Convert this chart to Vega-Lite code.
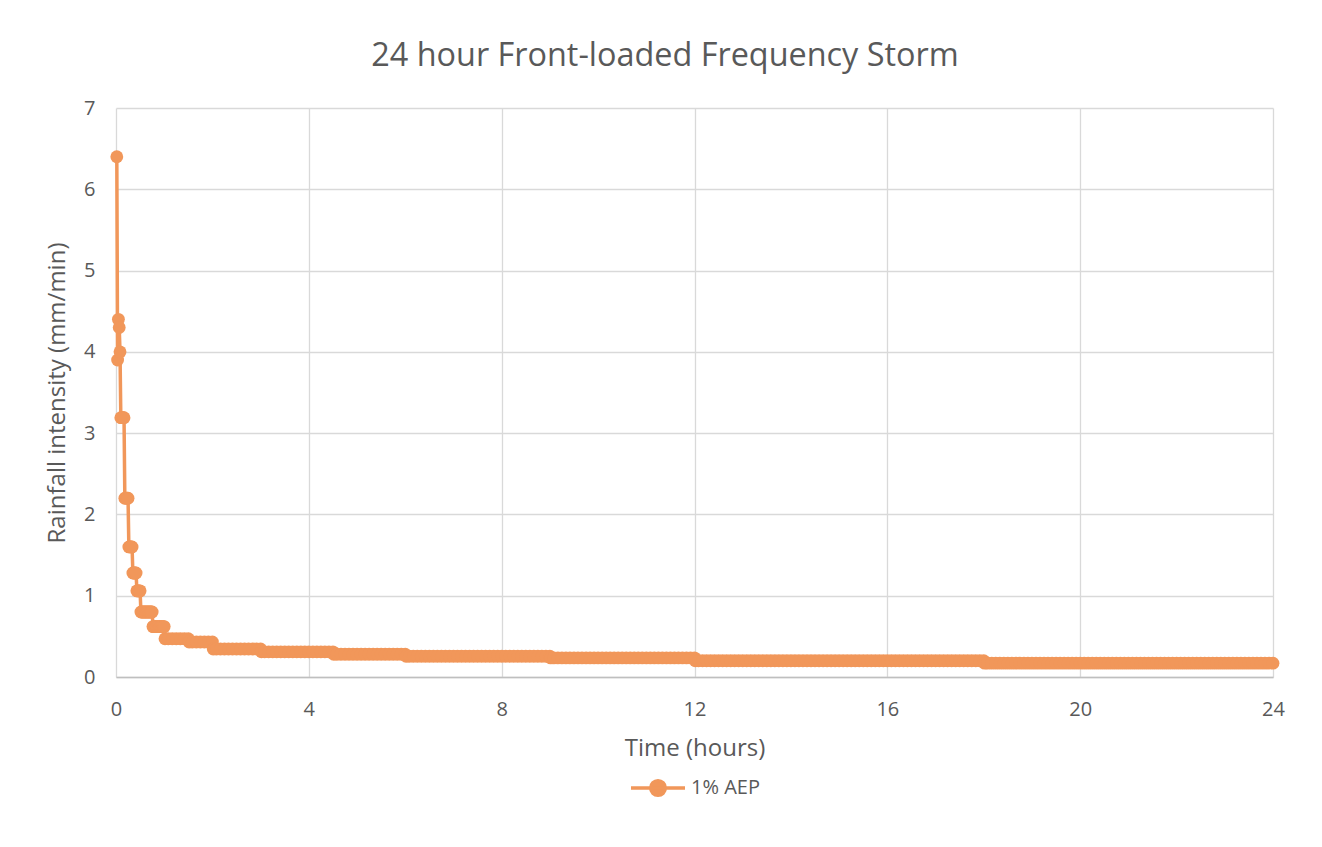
{
  "$schema": "https://vega.github.io/schema/vega-lite/v6.json",
  "autosize": {"type": "none"},
  "width": 1157,
  "height": 569,
  "padding": {"left": 116, "top": 108, "right": 49, "bottom": 170},
  "background": "white",
  "title": {"text": "24 hour Front-loaded Frequency Storm", "fontSize": 32.4, "fontWeight": "normal", "color": "#595959", "anchor": "middle", "frame": "bounds", "offset": 26},
  "data": {"values": [
{"t":1,"v":6.4},{"t":2,"v":3.9},{"t":3,"v":4.4},{"t":4,"v":4.3},{"t":5,"v":4.0},
{"t":6,"v":3.19},{"t":7,"v":3.19},{"t":8,"v":3.19},{"t":9,"v":3.19},{"t":10,"v":3.19},
{"t":11,"v":2.2},{"t":12,"v":2.2},{"t":13,"v":2.2},{"t":14,"v":2.2},{"t":15,"v":2.2},
{"t":16,"v":1.6},{"t":17,"v":1.6},{"t":18,"v":1.6},{"t":19,"v":1.6},{"t":20,"v":1.6},
{"t":21,"v":1.28},{"t":22,"v":1.28},{"t":23,"v":1.28},{"t":24,"v":1.28},{"t":25,"v":1.28},
{"t":26,"v":1.06},{"t":27,"v":1.06},{"t":28,"v":1.06},{"t":29,"v":1.06},{"t":30,"v":1.06},
{"t":31,"v":0.8},{"t":32,"v":0.8},{"t":33,"v":0.8},{"t":34,"v":0.8},{"t":35,"v":0.8},{"t":36,"v":0.8},{"t":37,"v":0.8},{"t":38,"v":0.8},{"t":39,"v":0.8},{"t":40,"v":0.8},{"t":41,"v":0.8},{"t":42,"v":0.8},{"t":43,"v":0.8},{"t":44,"v":0.8},{"t":45,"v":0.8},
{"t":46,"v":0.62},{"t":47,"v":0.62},{"t":48,"v":0.62},{"t":49,"v":0.62},{"t":50,"v":0.62},{"t":51,"v":0.62},{"t":52,"v":0.62},{"t":53,"v":0.62},{"t":54,"v":0.62},{"t":55,"v":0.62},{"t":56,"v":0.62},{"t":57,"v":0.62},{"t":58,"v":0.62},{"t":59,"v":0.62},{"t":60,"v":0.62},
{"t":61,"v":0.47},{"t":65,"v":0.47},{"t":70,"v":0.47},{"t":75,"v":0.47},{"t":80,"v":0.47},{"t":85,"v":0.47},{"t":90,"v":0.47},
{"t":91,"v":0.43},{"t":95,"v":0.43},{"t":100,"v":0.43},{"t":105,"v":0.43},{"t":110,"v":0.43},{"t":115,"v":0.43},{"t":120,"v":0.43},
{"t":121,"v":0.345},{"t":125,"v":0.345},{"t":130,"v":0.345},{"t":135,"v":0.345},{"t":140,"v":0.345},{"t":145,"v":0.345},{"t":150,"v":0.345},{"t":155,"v":0.345},{"t":160,"v":0.345},{"t":165,"v":0.345},{"t":170,"v":0.345},{"t":175,"v":0.345},{"t":180,"v":0.345},
{"t":181,"v":0.31},{"t":185,"v":0.31},{"t":190,"v":0.31},{"t":195,"v":0.31},{"t":200,"v":0.31},{"t":205,"v":0.31},{"t":210,"v":0.31},{"t":215,"v":0.31},{"t":220,"v":0.31},{"t":225,"v":0.31},{"t":230,"v":0.31},{"t":235,"v":0.31},{"t":240,"v":0.31},{"t":245,"v":0.31},{"t":250,"v":0.31},{"t":255,"v":0.31},{"t":260,"v":0.31},{"t":265,"v":0.31},{"t":270,"v":0.31},
{"t":271,"v":0.28},{"t":275,"v":0.28},{"t":280,"v":0.28},{"t":285,"v":0.28},{"t":290,"v":0.28},{"t":295,"v":0.28},{"t":300,"v":0.28},{"t":305,"v":0.28},{"t":310,"v":0.28},{"t":315,"v":0.28},{"t":320,"v":0.28},{"t":325,"v":0.28},{"t":330,"v":0.28},{"t":335,"v":0.28},{"t":340,"v":0.28},{"t":345,"v":0.28},{"t":350,"v":0.28},{"t":355,"v":0.28},{"t":360,"v":0.28},
{"t":361,"v":0.255},{"t":365,"v":0.255},{"t":370,"v":0.255},{"t":375,"v":0.255},{"t":380,"v":0.255},{"t":385,"v":0.255},{"t":390,"v":0.255},{"t":395,"v":0.255},{"t":400,"v":0.255},{"t":405,"v":0.255},{"t":410,"v":0.255},{"t":415,"v":0.255},{"t":420,"v":0.255},{"t":425,"v":0.255},{"t":430,"v":0.255},{"t":435,"v":0.255},{"t":440,"v":0.255},{"t":445,"v":0.255},{"t":450,"v":0.255},{"t":455,"v":0.255},{"t":460,"v":0.255},{"t":465,"v":0.255},{"t":470,"v":0.255},{"t":475,"v":0.255},{"t":480,"v":0.255},{"t":485,"v":0.255},{"t":490,"v":0.255},{"t":495,"v":0.255},{"t":500,"v":0.255},{"t":505,"v":0.255},{"t":510,"v":0.255},{"t":515,"v":0.255},{"t":520,"v":0.255},{"t":525,"v":0.255},{"t":530,"v":0.255},{"t":535,"v":0.255},{"t":540,"v":0.255},
{"t":541,"v":0.235},{"t":545,"v":0.235},{"t":550,"v":0.235},{"t":555,"v":0.235},{"t":560,"v":0.235},{"t":565,"v":0.235},{"t":570,"v":0.235},{"t":575,"v":0.235},{"t":580,"v":0.235},{"t":585,"v":0.235},{"t":590,"v":0.235},{"t":595,"v":0.235},{"t":600,"v":0.235},{"t":605,"v":0.235},{"t":610,"v":0.235},{"t":615,"v":0.235},{"t":620,"v":0.235},{"t":625,"v":0.235},{"t":630,"v":0.235},{"t":635,"v":0.235},{"t":640,"v":0.235},{"t":645,"v":0.235},{"t":650,"v":0.235},{"t":655,"v":0.235},{"t":660,"v":0.235},{"t":665,"v":0.235},{"t":670,"v":0.235},{"t":675,"v":0.235},{"t":680,"v":0.235},{"t":685,"v":0.235},{"t":690,"v":0.235},{"t":695,"v":0.235},{"t":700,"v":0.235},{"t":705,"v":0.235},{"t":710,"v":0.235},{"t":715,"v":0.235},{"t":720,"v":0.235},
{"t":721,"v":0.2},{"t":725,"v":0.2},{"t":730,"v":0.2},{"t":735,"v":0.2},{"t":740,"v":0.2},{"t":745,"v":0.2},{"t":750,"v":0.2},{"t":755,"v":0.2},{"t":760,"v":0.2},{"t":765,"v":0.2},{"t":770,"v":0.2},{"t":775,"v":0.2},{"t":780,"v":0.2},{"t":785,"v":0.2},{"t":790,"v":0.2},{"t":795,"v":0.2},{"t":800,"v":0.2},{"t":805,"v":0.2},{"t":810,"v":0.2},{"t":815,"v":0.2},{"t":820,"v":0.2},{"t":825,"v":0.2},{"t":830,"v":0.2},{"t":835,"v":0.2},{"t":840,"v":0.2},{"t":845,"v":0.2},{"t":850,"v":0.2},{"t":855,"v":0.2},{"t":860,"v":0.2},{"t":865,"v":0.2},{"t":870,"v":0.2},{"t":875,"v":0.2},{"t":880,"v":0.2},{"t":885,"v":0.2},{"t":890,"v":0.2},{"t":895,"v":0.2},{"t":900,"v":0.2},{"t":905,"v":0.2},{"t":910,"v":0.2},{"t":915,"v":0.2},{"t":920,"v":0.2},{"t":925,"v":0.2},{"t":930,"v":0.2},{"t":935,"v":0.2},{"t":940,"v":0.2},{"t":945,"v":0.2},{"t":950,"v":0.2},{"t":955,"v":0.2},{"t":960,"v":0.2},{"t":965,"v":0.2},{"t":970,"v":0.2},{"t":975,"v":0.2},{"t":980,"v":0.2},{"t":985,"v":0.2},{"t":990,"v":0.2},{"t":995,"v":0.2},{"t":1000,"v":0.2},{"t":1005,"v":0.2},{"t":1010,"v":0.2},{"t":1015,"v":0.2},{"t":1020,"v":0.2},{"t":1025,"v":0.2},{"t":1030,"v":0.2},{"t":1035,"v":0.2},{"t":1040,"v":0.2},{"t":1045,"v":0.2},{"t":1050,"v":0.2},{"t":1055,"v":0.2},{"t":1060,"v":0.2},{"t":1065,"v":0.2},{"t":1070,"v":0.2},{"t":1075,"v":0.2},{"t":1080,"v":0.2},
{"t":1081,"v":0.17},{"t":1085,"v":0.17},{"t":1090,"v":0.17},{"t":1095,"v":0.17},{"t":1100,"v":0.17},{"t":1105,"v":0.17},{"t":1110,"v":0.17},{"t":1115,"v":0.17},{"t":1120,"v":0.17},{"t":1125,"v":0.17},{"t":1130,"v":0.17},{"t":1135,"v":0.17},{"t":1140,"v":0.17},{"t":1145,"v":0.17},{"t":1150,"v":0.17},{"t":1155,"v":0.17},{"t":1160,"v":0.17},{"t":1165,"v":0.17},{"t":1170,"v":0.17},{"t":1175,"v":0.17},{"t":1180,"v":0.17},{"t":1185,"v":0.17},{"t":1190,"v":0.17},{"t":1195,"v":0.17},{"t":1200,"v":0.17},{"t":1205,"v":0.17},{"t":1210,"v":0.17},{"t":1215,"v":0.17},{"t":1220,"v":0.17},{"t":1225,"v":0.17},{"t":1230,"v":0.17},{"t":1235,"v":0.17},{"t":1240,"v":0.17},{"t":1245,"v":0.17},{"t":1250,"v":0.17},{"t":1255,"v":0.17},{"t":1260,"v":0.17},{"t":1265,"v":0.17},{"t":1270,"v":0.17},{"t":1275,"v":0.17},{"t":1280,"v":0.17},{"t":1285,"v":0.17},{"t":1290,"v":0.17},{"t":1295,"v":0.17},{"t":1300,"v":0.17},{"t":1305,"v":0.17},{"t":1310,"v":0.17},{"t":1315,"v":0.17},{"t":1320,"v":0.17},{"t":1325,"v":0.17},{"t":1330,"v":0.17},{"t":1335,"v":0.17},{"t":1340,"v":0.17},{"t":1345,"v":0.17},{"t":1350,"v":0.17},{"t":1355,"v":0.17},{"t":1360,"v":0.17},{"t":1365,"v":0.17},{"t":1370,"v":0.17},{"t":1375,"v":0.17},{"t":1380,"v":0.17},{"t":1385,"v":0.17},{"t":1390,"v":0.17},{"t":1395,"v":0.17},{"t":1400,"v":0.17},{"t":1405,"v":0.17},{"t":1410,"v":0.17},{"t":1415,"v":0.17},{"t":1420,"v":0.17},{"t":1425,"v":0.17},{"t":1430,"v":0.17},{"t":1435,"v":0.17},{"t":1440,"v":0.17}
  ]},
  "mark": {"type": "line", "strokeWidth": 3.5, "strokeJoin": "round", "strokeCap": "round", "point": {"filled": true, "size": 165, "opacity": 1}},
  "encoding": {
    "x": {"field": "t", "type": "quantitative", "title": "Time (hours)",
      "scale": {"domain": [0, 1440], "nice": false, "zero": false},
      "axis": {"values": [0, 240, 480, 720, 960, 1200, 1440], "labelExpr": "datum.value / 60", "labelFlush": false, "grid": true, "labelPadding": 22, "titlePadding": 17, "domain": true}},
    "y": {"field": "v", "type": "quantitative", "title": "Rainfall intensity (mm/min)",
      "scale": {"domain": [0, 7], "nice": false},
      "axis": {"values": [0, 1, 2, 3, 4, 5, 6, 7], "grid": true, "domain": false, "labelPadding": 21, "titlePadding": 14}},
    "color": {"datum": "1% AEP", "type": "nominal",
      "scale": {"range": ["#F1975A"]},
      "legend": {"title": null, "orient": "bottom", "direction": "horizontal", "offset": -1,
        "symbolType": "M-1,0H1M0.27,0A0.27,0.27,0,1,1,-0.27,0A0.27,0.27,0,1,1,0.27,0Z",
        "symbolSize": 2916, "symbolStrokeWidth": 3.5, "symbolFillColor": "#F1975A", "symbolStrokeColor": "#F1975A",
        "labelFontSize": 20, "labelColor": "#595959", "labelOffset": 4,
        "encode": {"symbols": {"update": {"fill": {"value": "#F1975A"}, "stroke": {"value": "#F1975A"}, "strokeWidth": {"value": 3.5}}}}}}
  },
  "config": {
    "font": "Open Sans",
    "view": {"stroke": null},
    "legend": {"layout": {"bottom": {"anchor": "middle"}}},
    "axis": {"gridColor": "#D9D9D9", "gridWidth": 1.3, "domainColor": "#BFBFBF", "domainWidth": 1.3, "ticks": false,
      "labelColor": "#595959", "titleColor": "#595959", "labelFontSize": 20, "titleFontSize": 24, "titleFontWeight": "normal"}
  }
}
